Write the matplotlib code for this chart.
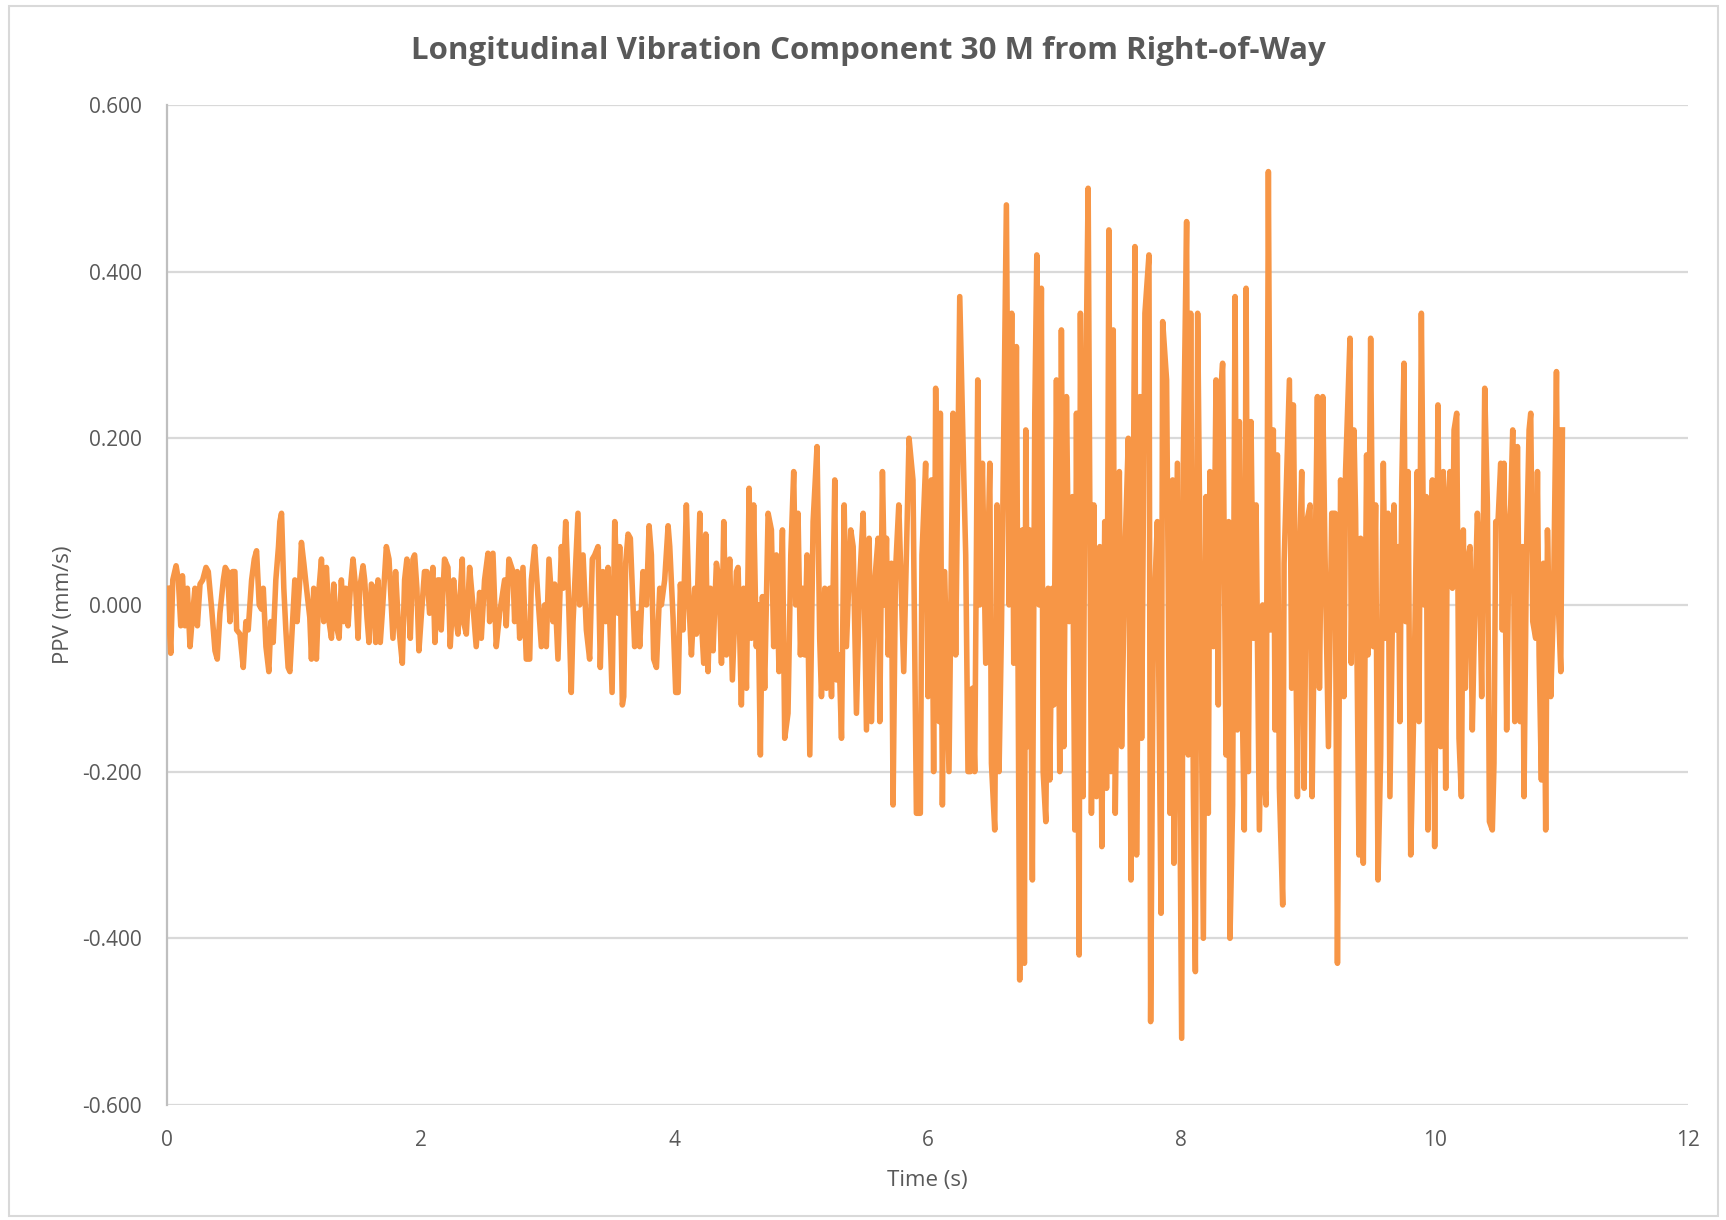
import numpy as np
import matplotlib
matplotlib.use("Agg")
import matplotlib.pyplot as plt
from matplotlib.patches import Rectangle

plt.rcParams["font.family"] = "Open Sans"

# values, segment by segment (time in s, PPV in mm/s)
t_seg1 = [0.003, 0.029, 0.045, 0.071, 0.089, 0.108, 0.121, 0.142, 0.160, 0.181, 0.202, 0.220, 0.239, 0.260,
          0.281, 0.307, 0.325, 0.352, 0.378, 0.396, 0.417, 0.444, 0.459, 0.478, 0.496, 0.517, 0.535, 0.549,
          0.575, 0.601, 0.622, 0.640, 0.667, 0.688, 0.706, 0.727, 0.745, 0.759, 0.780, 0.803, 0.819, 0.837,
          0.858, 0.879, 0.890, 0.903, 0.921, 0.937, 0.955, 0.969, 0.990, 1.008, 1.026, 1.047, 1.060, 1.079,
          1.100, 1.126, 1.139, 1.157, 1.178, 1.199, 1.218, 1.236, 1.257, 1.278, 1.297, 1.315, 1.336, 1.357,
          1.375, 1.394, 1.409, 1.428, 1.446, 1.467, 1.488, 1.507, 1.520, 1.546, 1.559, 1.577, 1.593, 1.612,
          1.630, 1.646, 1.664, 1.682, 1.698, 1.730, 1.751, 1.769, 1.782, 1.803, 1.822, 1.840, 1.856, 1.874,
          1.892, 1.908, 1.919, 1.940, 1.953, 1.971, 1.987, 2.005, 2.031, 2.050, 2.071, 2.097, 2.113, 2.136]
v_seg1 = [0.02, -0.058, 0.03, 0.047, 0.03, -0.025, 0.035, -0.025, 0.02, -0.05, -0.01, 0.02, -0.025, 0.025,
          0.03, 0.045, 0.04, -0.005, -0.055, -0.065, -0.01, 0.03, 0.045, 0.04, -0.02, 0.04, 0.04, -0.03,
          -0.035, -0.075, -0.02, -0.03, 0.03, 0.055, 0.065, 0.0, -0.005, 0.02, -0.05, -0.08, -0.02, -0.045,
          0.03, 0.07, 0.10, 0.11, 0.02, -0.03, -0.075, -0.08, -0.02, 0.03, -0.02, 0.03, 0.075, 0.05,
          0.02, -0.015, -0.065, 0.02, -0.065, 0.02, 0.055, -0.02, 0.045, -0.02, -0.04, 0.025, -0.025, -0.04,
          0.03, -0.02, 0.02, -0.025, 0.02, 0.055, 0.02, -0.04, 0.02, 0.047, 0.03, -0.015, -0.045, 0.025,
          0.02, -0.045, 0.03, -0.045, -0.01, 0.07, 0.055, 0.0, -0.04, 0.04, -0.015, -0.045, -0.07, 0.03,
          0.055, -0.005, -0.04, 0.055, 0.06, 0.02, -0.055, -0.015, 0.04, 0.04, -0.01, 0.045, -0.045, 0.03]

t_seg2 = [2.150, 2.163, 2.189, 2.216, 2.234, 2.261, 2.282, 2.295, 2.329, 2.339, 2.361, 2.387, 2.413, 2.439,
          2.466, 2.479, 2.505, 2.532, 2.545, 2.571, 2.597, 2.624, 2.663, 2.676, 2.697, 2.729, 2.742, 2.763,
          2.782, 2.808, 2.834, 2.861, 2.874, 2.900, 2.926, 2.953, 2.979, 2.992, 3.013, 3.045, 3.058, 3.084,
          3.111, 3.124, 3.145, 3.163, 3.189, 3.203, 3.242, 3.255, 3.282, 3.308, 3.334, 3.355, 3.374, 3.400,
          3.418, 3.439, 3.461, 3.479, 3.511, 3.532, 3.558, 3.571, 3.592, 3.603, 3.618, 3.637, 3.655, 3.676,
          3.689, 3.716, 3.729, 3.755, 3.782, 3.803, 3.821, 3.839, 3.861, 3.887, 3.900, 3.926, 3.953, 3.966,
          3.992, 4.013, 4.032, 4.050, 4.071, 4.097, 4.118, 4.137, 4.163, 4.176, 4.203, 4.216, 4.234, 4.250,
          4.268, 4.287, 4.308, 4.334, 4.355, 4.374, 4.392]
v_seg2 = [0.03, -0.03, 0.055, 0.045, -0.05, 0.03, -0.02, -0.035, 0.055, -0.02, -0.035, 0.045, 0.0, -0.05,
          0.015, -0.04, 0.03, 0.062, -0.02, 0.062, -0.05, -0.01, 0.03, -0.025, 0.055, 0.04, -0.02, 0.04,
          -0.04, 0.045, -0.065, -0.065, 0.03, 0.07, 0.01, -0.05, 0.0, -0.05, 0.055, -0.02, 0.025, -0.065,
          0.07, 0.02, 0.10, 0.03, -0.105, -0.02, 0.11, 0.0, 0.06, -0.03, -0.065, 0.055, 0.06, 0.07,
          -0.075, 0.04, -0.02, 0.045, -0.105, 0.10, -0.01, 0.07, -0.12, -0.11, 0.05, 0.085, 0.08, 0.0,
          -0.05, -0.01, -0.05, 0.04, 0.0, 0.095, 0.06, -0.065, -0.075, 0.02, 0.0, 0.03, 0.095, 0.07,
          -0.015, -0.105, -0.105, 0.025, -0.03, 0.12, 0.0, -0.06, 0.02, -0.035, 0.11, -0.02, -0.07, 0.085,
          -0.08, 0.02, -0.055, 0.05, 0.03, -0.07, 0.10]

t_seg3 = [4.413, 4.439, 4.460, 4.492, 4.505, 4.531, 4.549, 4.571, 4.592, 4.610, 4.628, 4.649, 4.663, 4.681,
          4.697, 4.715, 4.742, 4.768, 4.786, 4.807, 4.828, 4.855, 4.873, 4.899, 4.921, 4.944, 4.960, 4.978,
          4.997, 5.013, 5.031, 5.049, 5.071, 5.097, 5.128, 5.149, 5.163, 5.189, 5.202, 5.228, 5.242, 5.268,
          5.281, 5.302, 5.321, 5.342, 5.360, 5.394, 5.413, 5.439, 5.465, 5.492, 5.518, 5.539, 5.557, 5.584,
          5.610, 5.623, 5.644, 5.663, 5.676, 5.689, 5.715, 5.728, 5.747, 5.773]
v_seg3 = [-0.06, 0.055, -0.09, 0.04, 0.045, -0.12, 0.02, -0.10, 0.14, -0.04, 0.12, -0.05, 0.0, -0.18,
          0.01, -0.10, 0.11, 0.09, -0.05, 0.06, -0.08, 0.09, -0.16, -0.13, 0.06, 0.16, 0.0, 0.11,
          -0.06, 0.02, -0.06, 0.06, -0.18, 0.10, 0.19, -0.04, -0.11, 0.02, -0.10, 0.02, -0.11, 0.15,
          -0.09, -0.06, -0.16, 0.12, -0.05, 0.09, 0.07, -0.13, 0.03, 0.11, -0.15, 0.08, -0.14, 0.03,
          0.08, -0.14, 0.16, 0.0, 0.08, -0.06, 0.05, -0.24, 0.04, 0.12]

t_seg4 = [5.812, 5.854, 5.885, 5.912, 5.943, 5.956, 5.985, 6.004, 6.030, 6.048, 6.064, 6.091, 6.101, 6.117,
          6.135, 6.169, 6.201, 6.222, 6.254, 6.285, 6.301, 6.319, 6.338, 6.354, 6.372, 6.396, 6.412, 6.433,
          6.459, 6.491, 6.504, 6.530, 6.548, 6.564, 6.583, 6.622, 6.643, 6.664, 6.680, 6.701, 6.727, 6.748,
          6.764, 6.775, 6.793, 6.806, 6.827, 6.846, 6.862, 6.880, 6.898, 6.912, 6.933, 6.951, 6.964, 6.985,
          6.996, 7.017, 7.043, 7.056, 7.075, 7.096, 7.117, 7.143, 7.162, 7.175, 7.196, 7.206, 7.227, 7.241,
          7.267, 7.293, 7.312, 7.333, 7.359, 7.375, 7.398, 7.412]
v_seg4 = [-0.08, 0.20, 0.15, -0.25, -0.25, 0.06, 0.17, -0.11, 0.15, -0.20, 0.26, -0.14, 0.23, -0.24,
          0.04, -0.20, 0.23, -0.06, 0.37, 0.16, 0.06, -0.20, -0.20, -0.10, -0.20, 0.27, 0.0, 0.17,
          -0.07, 0.17, -0.19, -0.27, 0.12, -0.20, -0.03, 0.48, 0.0, 0.35, -0.07, 0.31, -0.45, 0.09,
          -0.43, 0.21, -0.17, 0.09, -0.33, 0.23, 0.42, 0.0, 0.38, -0.20, -0.26, 0.02, -0.21, 0.02,
          -0.12, 0.27, -0.20, 0.33, -0.17, 0.25, -0.02, 0.13, -0.27, 0.23, -0.42, 0.35, -0.23, 0.16,
          0.50, -0.25, 0.12, -0.23, 0.07, -0.29, 0.10, -0.22]

t_seg5 = [7.431, 7.447, 7.465, 7.481, 7.513, 7.531, 7.557, 7.584, 7.605, 7.636, 7.649, 7.676, 7.689, 7.715,
          7.747, 7.760, 7.781, 7.813, 7.842, 7.855, 7.886, 7.913, 7.934, 7.944, 7.971, 8.005, 8.018, 8.044,
          8.057, 8.076, 8.097, 8.113, 8.131, 8.149, 8.176, 8.197, 8.215, 8.228, 8.255, 8.276, 8.294, 8.307,
          8.328, 8.355, 8.376, 8.386, 8.407, 8.426, 8.444, 8.460, 8.478, 8.499, 8.513, 8.531, 8.552, 8.571,
          8.592, 8.618, 8.644, 8.655, 8.671, 8.689, 8.707, 8.728, 8.742, 8.760, 8.776, 8.802, 8.813, 8.855,
          8.873, 8.886, 8.918, 8.934, 8.952, 8.971, 8.992, 9.018, 9.034, 9.057, 9.076, 9.092, 9.118, 9.136,
          9.163, 9.189, 9.215, 9.234]
v_seg5 = [0.45, -0.20, 0.33, -0.25, 0.16, -0.17, 0.06, 0.20, -0.33, 0.43, -0.30, 0.25, -0.16, 0.35,
          0.42, -0.50, -0.03, 0.10, -0.37, 0.34, 0.27, -0.25, 0.15, -0.31, 0.17, -0.52, 0.17, 0.46,
          -0.18, 0.35, -0.22, -0.44, 0.35, 0.07, -0.40, 0.13, -0.25, 0.16, -0.05, 0.27, -0.12, 0.24,
          0.29, -0.18, 0.10, -0.40, -0.24, 0.37, -0.15, 0.22, -0.07, -0.27, 0.38, -0.20, 0.22, -0.04,
          0.12, -0.27, 0.0, -0.20, -0.24, 0.52, -0.03, 0.21, -0.15, 0.18, -0.22, -0.36, 0.05, 0.27,
          -0.10, 0.24, -0.23, 0.05, 0.16, -0.22, 0.10, 0.12, -0.23, 0.04, 0.25, -0.10, 0.25, 0.06,
          -0.17, 0.11, 0.11, -0.43]

t_seg6 = [9.259, 9.285, 9.298, 9.333, 9.343, 9.364, 9.377, 9.404, 9.417, 9.438, 9.464, 9.475, 9.496, 9.517,
          9.535, 9.554, 9.575, 9.596, 9.614, 9.633, 9.648, 9.680, 9.693, 9.714, 9.727, 9.741, 9.759, 9.772,
          9.791, 9.812, 9.833, 9.851, 9.864, 9.877, 9.896, 9.917, 9.935, 9.948, 9.964, 9.983, 10.001, 10.027,
          10.048, 10.069, 10.088, 10.101, 10.122, 10.141, 10.154, 10.175, 10.193, 10.212, 10.227, 10.243,
          10.259, 10.280, 10.298, 10.317, 10.338, 10.351, 10.372, 10.396, 10.417, 10.433, 10.456, 10.469,
          10.483, 10.501, 10.522, 10.535, 10.548, 10.569, 10.588, 10.601, 10.617, 10.633, 10.654, 10.675,
          10.693, 10.706, 10.725, 10.746, 10.759, 10.775, 10.798, 10.812, 10.825, 10.843, 10.859, 10.877,
          10.891, 10.917, 10.938, 10.962, 10.977, 10.996, 11.009]
v_seg6 = [0.15, -0.11, 0.16, 0.32, -0.07, 0.21, 0.11, -0.30, 0.08, -0.31, 0.18, -0.06, 0.32, -0.05,
          0.12, -0.33, -0.18, 0.17, -0.04, 0.11, -0.23, 0.12, -0.03, 0.07, -0.14, 0.14, 0.29, -0.02,
          0.16, -0.30, -0.15, 0.03, 0.16, -0.14, 0.35, 0.0, 0.13, -0.27, 0.0, 0.15, -0.29, 0.24,
          -0.17, 0.16, -0.22, 0.11, 0.16, 0.02, 0.21, 0.23, -0.16, -0.23, 0.09, -0.10,
          0.05, 0.07, -0.15, -0.01, 0.11, 0.07, -0.11, 0.26, 0.12, -0.26, -0.27, -0.19,
          0.10, 0.10, 0.17, -0.03, 0.17, -0.15, 0.09, 0.12, 0.21, -0.14, 0.19, -0.14,
          0.07, -0.23, 0.06, 0.21, 0.23, -0.02, -0.04, 0.16, -0.06, -0.21, 0.05, -0.27,
          0.09, -0.11, 0.0, 0.28, 0.0, -0.08, 0.21]

time_s = np.array(t_seg1 + t_seg2 + t_seg3 + t_seg4 + t_seg5 + t_seg6)
ppv = np.array(v_seg1 + v_seg2 + v_seg3 + v_seg4 + v_seg5 + v_seg6)

text_col = "#595959"
grid_col = "#D9D9D9"

fig = plt.figure(figsize=(17.26, 12.2), dpi=100)
ax = fig.add_axes([0.0968, 0.0943, 0.978 - 0.0968, 0.914 - 0.0943])

ax.plot(time_s, ppv, color="#F79646", lw=4.0, solid_joinstyle="round", zorder=3)

ax.set_xlim(0, 12)
ax.set_ylim(-0.6, 0.6)
ax.set_xticks(np.arange(0, 13, 2))
ax.set_yticks(np.arange(-0.6, 0.61, 0.2))
ax.set_yticklabels(["{:.3f}".format(v) for v in np.arange(-0.6, 0.61, 0.2)])
ax.yaxis.grid(True, color=grid_col, lw=1.6)
ax.set_axisbelow(True)
for s in ["top", "right", "bottom"]:
    ax.spines[s].set_visible(False)
ax.spines["left"].set_color("#BFBFBF")
ax.spines["left"].set_linewidth(1.6)
ax.tick_params(length=0, labelsize=15, labelcolor=text_col, pad=18)

ax.set_xlabel("Time (s)", fontsize=16, color=text_col, labelpad=14)
ax.set_ylabel("PPV (mm/s)", fontsize=16, color=text_col, labelpad=6)

fig.text(0.503, 0.958, "Longitudinal Vibration Component 30 M from Right-of-Way",
         ha="center", va="center", fontsize=22.5, fontweight="bold", color=text_col)

# chart border
fig.patches.append(Rectangle((9 / 1726, 4 / 1220), 1709 / 1726, 1210 / 1220, transform=fig.transFigure,
                             fill=False, edgecolor="#D9D9D9", lw=1.5))

fig.savefig("out.png", dpi=100)
